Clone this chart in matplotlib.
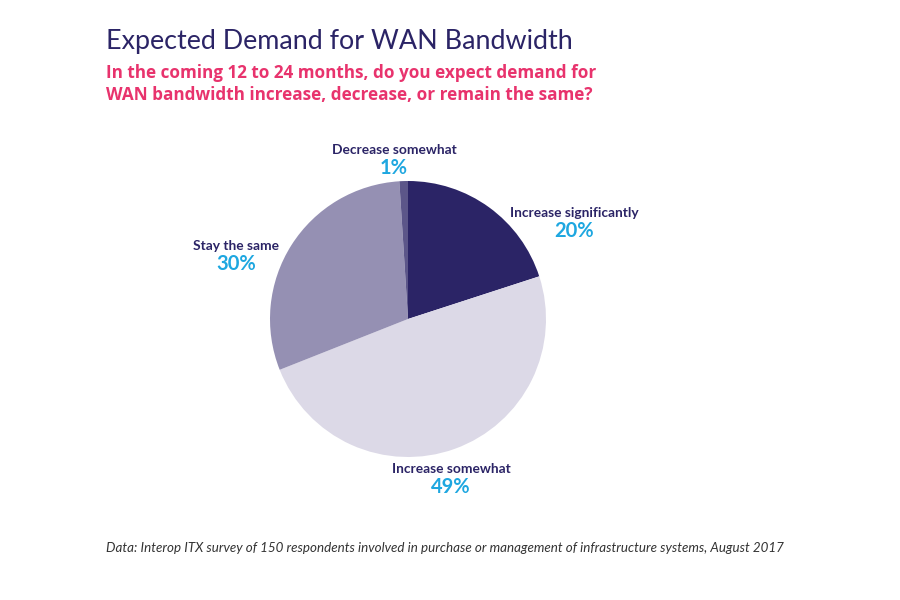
import matplotlib.pyplot as plt

# survey answers, clockwise from 12 o'clock
answers = ['Increase significantly', 'Increase somewhat', 'Stay the same', 'Decrease somewhat']
shares = [20, 49, 30, 1]
colors = ['#2b2466', '#dcd9e7', '#9590b3', '#5c5689']

# where each label sits (pixels from top-left of the 900x600 figure)
label_pos = {
    'Increase significantly': (574, 213),
    'Increase somewhat': (451, 469),
    'Stay the same': (236, 246),
    'Decrease somewhat': (394, 150),
}

NAVY = '#2b2466'
PINK = '#e8336d'
CYAN = '#1ea7e0'

plt.rcParams['font.family'] = ['Lato', 'DejaVu Sans']

W, H = 900, 600
fig = plt.figure(figsize=(W / 100, H / 100), dpi=100)
fig.patch.set_facecolor('white')


def px(x, y):
    return x / W, 1 - y / H


# pie: centre (408, 319), radius 138 px
cx, cy, r = 408, 319, 138
ax = fig.add_axes([(cx - r) / W, (H - cy - r) / H, 2 * r / W, 2 * r / H])
ax.pie(shares, colors=colors, startangle=90, counterclock=False, radius=1,
       wedgeprops=dict(linewidth=0))
ax.set_xlim(-1, 1)
ax.set_ylim(-1, 1)
ax.set_aspect('equal')
ax.axis('off')

fig.text(*px(106, 41), 'Expected Demand for WAN Bandwidth', color=NAVY,
         fontsize=19.4, va='center', ha='left')
sub_font = dict(color=PINK, fontsize=12.3, fontweight='bold', va='center',
                ha='left', family=['Open Sans', 'DejaVu Sans'])
fig.text(*px(106, 73), 'In the coming 12 to 24 months, do you expect demand for',
         **sub_font)
fig.text(*px(106, 95), 'WAN bandwidth increase, decrease, or remain the same?',
         **sub_font)

for name, val in zip(answers, shares):
    x, y = label_pos[name]
    fig.text(*px(x, y), name, color=NAVY, fontsize=9.9, fontweight='bold',
             ha='center', va='center')
    fig.text(*px(x, y + 18), f'{val}%', color=CYAN, fontsize=14.5,
             fontweight='bold', ha='center', va='center')

fig.text(*px(106, 548),
         'Data: Interop ITX survey of 150 respondents involved in purchase or '
         'management of infrastructure systems, August 2017',
         color='#333333', fontsize=9.6, fontstyle='italic',
         ha='left', va='center')

fig.savefig('out.png', dpi=100)
